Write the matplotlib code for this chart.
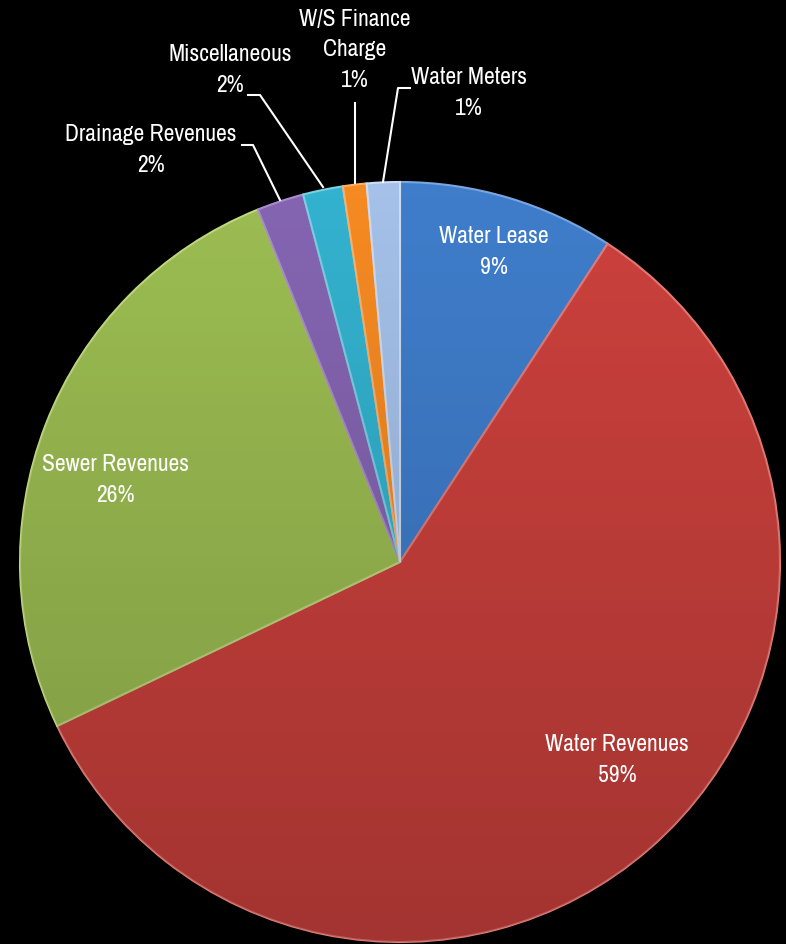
import numpy as np
import matplotlib
matplotlib.use('Agg')
import matplotlib.pyplot as plt
from matplotlib import font_manager
from matplotlib.patches import Circle

# Slice shares, clockwise from 12 o'clock
labels = ['Water Lease', 'Water Revenues', 'Sewer Revenues', 'Drainage Revenues',
          'Miscellaneous', 'W/S Finance\nCharge', 'Water Meters']
shares = [9.2, 58.7, 26.0, 2.0, 1.7, 1.0, 1.4]
pct_text = ['9%', '59%', '26%', '2%', '2%', '1%', '1%']
colors = ['#3f7dcb', '#cc413d', '#9cbd52', '#8565b2', '#33b2cf', '#f68a22', '#a5c1e9']
edges = ['#78a6e0', '#e67a74', '#bfd880', '#a98ccc', '#78d0e2', '#fbb06a', '#cddcf2']

# pick a condensed sans if one is installed
names = sorted({f.name for f in font_manager.fontManager.ttflist})
narrow = [n for n in names if 'Narrow' in n or 'Condensed' in n]
family = (narrow[:1] if narrow else []) + ['Liberation Sans', 'DejaVu Sans']
plt.rcParams['font.family'] = family
fs = 17 if narrow else 14.5

W, H = 786, 944
cx, cy, R = 400, 562, 380

fig = plt.figure(figsize=(W / 100, H / 100), dpi=100, facecolor='black')
ax = fig.add_axes([(cx - R) / W, (H - cy - R) / H, 2 * R / W, 2 * R / H])
ax.set_facecolor('black')

wedges, _ = ax.pie(shares, colors=colors, startangle=90, counterclock=False,
                   radius=1, wedgeprops=dict(linewidth=1.5))
for w, ec in zip(wedges, edges):
    w.set_edgecolor(ec)

# shading: lighter at top, darker towards the bottom
grad = np.linspace(0, 1, 256).reshape(-1, 1)
shade = np.zeros((256, 1, 4))
shade[..., 3] = 0.20 * grad
img = ax.imshow(shade, extent=[-1, 1, -1, 1], aspect='auto', zorder=3)
img.set_clip_path(Circle((0, 0), 1, transform=ax.transData))

ax.set_xlim(-1, 1)
ax.set_ylim(-1, 1)
ax.set_aspect('auto')
ax.axis('off')


def px(x, y):
    return (x - cx) / R, (cy - y) / R


# inside labels
inside = [(0, 494, 252), (1, 617, 760), (2, 115, 480)]
for i, x, y in inside:
    tx, ty = px(x, y)
    ax.text(tx, ty, labels[i] + '\n' + pct_text[i], color='white', fontsize=fs,
            ha='center', va='center', linespacing=1.55, zorder=5)

# outside labels with leader lines
outside = [(3, 151, 150), (4, 230, 70), (5, 355, 50), (6, 469, 93)]
for i, x, y in outside:
    tx, ty = px(x, y)
    ax.text(tx, ty, labels[i] + '\n' + pct_text[i], color='white', fontsize=fs,
            ha='center', va='center', linespacing=1.55, zorder=5, clip_on=False)

leaders = [
    [(242, 145), (253, 145), (280, 200)],
    [(248, 95), (260, 95), (323, 187)],
    [(355, 103), (355, 183)],
    [(410, 88), (398, 88), (383, 182)],
]
for pts in leaders:
    xs, ys = zip(*[px(x, y) for x, y in pts])
    ax.plot(xs, ys, color='white', lw=1.5, zorder=5, clip_on=False)

fig.savefig('out.png', dpi=100, facecolor='black')
